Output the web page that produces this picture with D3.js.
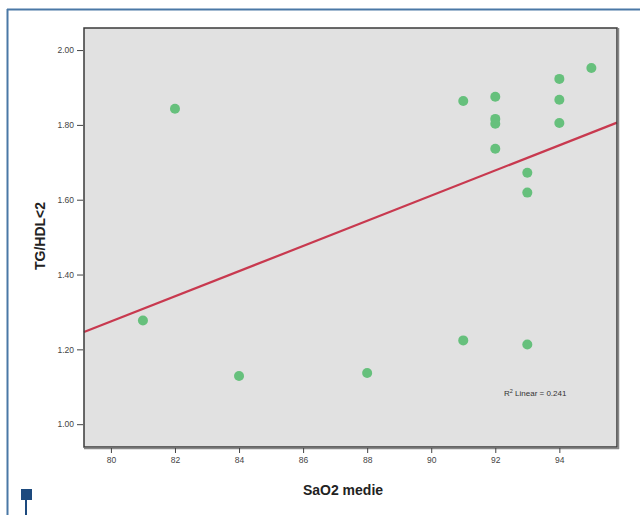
<!DOCTYPE html>
<html><head><meta charset="utf-8">
<script src="https://cdn.jsdelivr.net/npm/d3@7"></script>
<style>body{margin:0;background:#fff}svg{display:block}</style>
</head><body>
<script>
const saO2 = [81, 82, 84, 88, 91, 91, 92, 92, 92, 92, 93, 93, 93, 94, 94, 94, 95];
const tgHdl = [1.277, 1.843, 1.129, 1.137, 1.864, 1.224, 1.875, 1.816, 1.803, 1.736, 1.672, 1.619, 1.213, 1.923, 1.867, 1.805, 1.952];
const xTicks = [80, 82, 84, 86, 88, 90, 92, 94];
const yTicks = [1.00, 1.20, 1.40, 1.60, 1.80, 2.00];
const r2Label = "0.241";

const W = 640, H = 515;
const svg = d3.select("body").append("svg").attr("width", W).attr("height", H);

// page frame
const frame = "#4a78a6";
svg.append("line").attr("x1", 7).attr("x2", 640).attr("y1", 9.5).attr("y2", 9.5).attr("stroke", frame).attr("stroke-width", 2);
svg.append("line").attr("x1", 7.5).attr("x2", 7.5).attr("y1", 9).attr("y2", 515).attr("stroke", frame).attr("stroke-width", 2);
svg.append("rect").attr("x", 21).attr("y", 489).attr("width", 11).attr("height", 11).attr("fill", "#1d4a7e");
svg.append("line").attr("x1", 26).attr("x2", 26).attr("y1", 500).attr("y2", 515).attr("stroke", "#1d4a7e").attr("stroke-width", 2);

const L = 84, T = 28, R = 617, B = 447;
const x = d3.scaleLinear().domain([79.16, 95.8]).range([L, R]);
const y = d3.scaleLinear().domain([0.939, 2.059]).range([B, T]);

svg.append("rect").attr("x", L).attr("y", T).attr("width", R - L).attr("height", B - T)
  .attr("fill", "#e1e1e1");

// regression line
const n = saO2.length;
const mx = d3.mean(saO2), my = d3.mean(tgHdl);
let sxy = 0, sxx = 0;
for (let i = 0; i < n; i++) { sxy += (saO2[i] - mx) * (tgHdl[i] - my); sxx += (saO2[i] - mx) ** 2; }
const slope = sxy / sxx, icpt = my - slope * mx;
const xd = x.domain();
svg.append("line")
  .attr("x1", x(xd[0])).attr("y1", y(icpt + slope * xd[0]))
  .attr("x2", x(xd[1])).attr("y2", y(icpt + slope * xd[1]))
  .attr("stroke", "#c8394f").attr("stroke-width", 2.2);

// points
svg.append("g").selectAll("circle").data(saO2).join("circle")
  .attr("cx", (d) => x(d)).attr("cy", (d, i) => y(tgHdl[i])).attr("r", 5)
  .attr("fill", "#66c07c");

// plot border
svg.append("rect").attr("x", L).attr("y", T).attr("width", R - L).attr("height", B - T)
  .attr("fill", "none").attr("stroke", "#3a3a3a").attr("stroke-width", 1.5);
svg.append("line").attr("x1", R + 1.5).attr("x2", R + 1.5).attr("y1", T).attr("y2", B + 2).attr("stroke", "#888").attr("stroke-width", 1.5);
svg.append("line").attr("x1", L).attr("x2", R + 2).attr("y1", B + 1.5).attr("y2", B + 1.5).attr("stroke", "#888").attr("stroke-width", 1.5);

// axes
const xAxis = svg.append("g").attr("transform", `translate(0,${B + 1})`)
  .call(d3.axisBottom(x).tickValues(xTicks).tickSize(5).tickPadding(4).tickFormat(d3.format("d")));
const yAxis = svg.append("g").attr("transform", `translate(${L - 1},0)`)
  .call(d3.axisLeft(y).tickValues(yTicks).tickSize(6).tickPadding(3).tickFormat(d3.format(".2f")));
[xAxis, yAxis].forEach(g => {
  g.select(".domain").remove();
  g.selectAll(".tick line").attr("stroke", "#444");
  g.selectAll("text").attr("font-family", "Arial, 'Liberation Sans', sans-serif").attr("font-size", 8.5).attr("fill", "#444");
});

// titles
svg.append("text").attr("x", 343).attr("y", 495).attr("text-anchor", "middle")
  .attr("font-family", "Arial, 'Liberation Sans', sans-serif").attr("font-weight", "bold").attr("font-size", 14).attr("fill", "#222")
  .text("SaO2 medie");
svg.append("text").attr("transform", "translate(45,236) rotate(-90)").attr("text-anchor", "middle")
  .attr("font-family", "Arial, 'Liberation Sans', sans-serif").attr("font-weight", "bold").attr("font-size", 14).attr("fill", "#222")
  .text("TG/HDL<2");

// R2 annotation
const ann = svg.append("text").attr("x", 504).attr("y", 396)
  .attr("font-family", "Arial, 'Liberation Sans', sans-serif").attr("font-size", 8).attr("fill", "#333");
ann.append("tspan").text("R");
ann.append("tspan").attr("dy", -3).attr("font-size", 5.5).text("2");
ann.append("tspan").attr("dy", 3).text(" Linear = " + r2Label);
</script>
</body></html>
